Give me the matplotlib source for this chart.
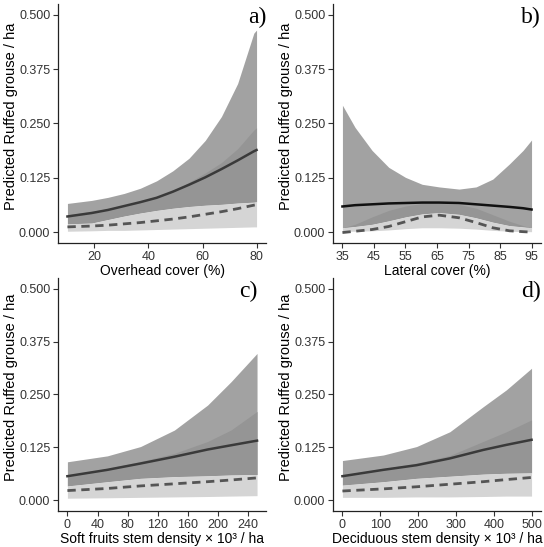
import numpy as np
import matplotlib
matplotlib.use("Agg")
import matplotlib.pyplot as plt

plt.rcParams["font.family"] = ["Liberation Sans", "DejaVu Sans"]

# ---- panel a: overhead cover ----
a_x = [10, 19, 25, 31, 37, 43, 49, 55, 61, 67, 73, 79, 80]
a_outer_hi = [0.066, 0.073, 0.080, 0.089, 0.101, 0.118, 0.141, 0.170, 0.211, 0.266, 0.342, 0.458, 0.465]
a_inner_hi = [0.040, 0.048, 0.054, 0.062, 0.071, 0.081, 0.095, 0.115, 0.136, 0.160, 0.192, 0.235, 0.240]
a_dark_lo = [0.019, 0.021, 0.029, 0.037, 0.044, 0.050, 0.055, 0.059, 0.062, 0.064, 0.067, 0.069, 0.070]
a_light_lo = [0.002, 0.003, 0.004, 0.004, 0.005, 0.006, 0.007, 0.008, 0.009, 0.010, 0.011, 0.012, 0.012]
a_solid = [0.036, 0.044, 0.051, 0.060, 0.069, 0.079, 0.093, 0.109, 0.126, 0.145, 0.165, 0.186, 0.189]
a_dashed = [0.012, 0.014, 0.016, 0.019, 0.022, 0.026, 0.030, 0.035, 0.041, 0.047, 0.054, 0.062, 0.063]

# ---- panel b: lateral cover ----
b_x = [35, 39, 44.4, 49.7, 55, 60.3, 65.7, 72, 77.4, 82.7, 88, 92.3, 95]
b_outer_hi = [0.292, 0.241, 0.188, 0.149, 0.126, 0.110, 0.104, 0.099, 0.104, 0.122, 0.157, 0.188, 0.212]
b_inner_hi = [0.010, 0.018, 0.035, 0.050, 0.060, 0.066, 0.066, 0.064, 0.055, 0.040, 0.025, 0.015, 0.010]
b_dark_lo = [0.010, 0.013, 0.018, 0.026, 0.035, 0.042, 0.045, 0.041, 0.033, 0.023, 0.015, 0.012, 0.010]
b_light_lo = [0.002, 0.002, 0.003, 0.005, 0.008, 0.010, 0.010, 0.009, 0.007, 0.004, 0.002, 0.001, 0.001]
b_solid = [0.059, 0.062, 0.064, 0.066, 0.067, 0.068, 0.068, 0.067, 0.064, 0.061, 0.058, 0.055, 0.052]
b_dashed = [-0.001, 0.002, 0.006, 0.013, 0.024, 0.035, 0.039, 0.033, 0.022, 0.010, 0.003, 0.001, 0.000]

# ---- panel c: soft fruits stem density ----
c_x = [0, 53, 97, 142, 186, 217, 251.6]
c_outer_hi = [0.091, 0.105, 0.127, 0.166, 0.225, 0.280, 0.347]
c_inner_hi = [0.060, 0.075, 0.092, 0.111, 0.139, 0.166, 0.210]
c_dark_lo = [0.034, 0.044, 0.052, 0.056, 0.058, 0.060, 0.061]
c_light_lo = [0.005, 0.006, 0.007, 0.008, 0.009, 0.010, 0.011]
c_solid = [0.057, 0.072, 0.087, 0.103, 0.120, 0.130, 0.141]
c_dashed = [0.023, 0.028, 0.034, 0.039, 0.044, 0.048, 0.053]

# ---- panel d: deciduous stem density ----
d_x = [0, 108, 196, 284, 372, 433.5, 500]
d_outer_hi = [0.094, 0.107, 0.127, 0.162, 0.221, 0.261, 0.312]
d_inner_hi = [0.060, 0.075, 0.088, 0.106, 0.139, 0.162, 0.190]
d_dark_lo = [0.036, 0.044, 0.052, 0.057, 0.062, 0.064, 0.065]
d_light_lo = [0.007, 0.007, 0.008, 0.008, 0.009, 0.010, 0.010]
d_solid = [0.057, 0.072, 0.083, 0.099, 0.119, 0.131, 0.143]
d_dashed = [0.022, 0.027, 0.032, 0.038, 0.044, 0.049, 0.054]

panels = [
    ("a)", a_x, a_outer_hi, a_inner_hi, a_dark_lo, a_light_lo, a_solid, a_dashed,
     "Overhead cover (%)", [20, 40, 60, 80], (6.5, 83.5), "#3a3a3a"),
    ("b)", b_x, b_outer_hi, b_inner_hi, b_dark_lo, b_light_lo, b_solid, b_dashed,
     "Lateral cover (%)", [35, 45, 55, 65, 75, 85, 95], (32, 98), "#111111"),
    ("c)", c_x, c_outer_hi, c_inner_hi, c_dark_lo, c_light_lo, c_solid, c_dashed,
     "Soft fruits stem density \u00d7 10\u00b3 / ha", [0, 40, 80, 120, 160, 200, 240], (-12.5, 263.5), "#3a3a3a"),
    ("d)", d_x, d_outer_hi, d_inner_hi, d_dark_lo, d_light_lo, d_solid, d_dashed,
     "Deciduous stem density \u00d7 10\u00b3 / ha", [0, 100, 200, 300, 400, 500], (-25, 525), "#3a3a3a"),
]

boxes = [
    [0.1066, 0.5558, 0.3824, 0.4369],
    [0.6121, 0.5558, 0.3824, 0.4369],
    [0.1066, 0.0660, 0.3824, 0.4256],
    [0.6121, 0.0660, 0.3824, 0.4256],
]
letter_x = [1.0, 1.0, 0.96, 1.0]

fig = plt.figure(figsize=(5.44, 5.47), dpi=100)

for i, (box, p) in enumerate(zip(boxes, panels)):
    (letter, x, ohi, ihi, dlo, llo, solid, dashed, xlabel, xticks, xlim, solid_col) = p
    ax = fig.add_axes(box)
    ax.fill_between(x, dlo, ohi, color="#a2a2a2", lw=0)
    ax.fill_between(x, dlo, ihi, color="#959595", lw=0)
    ax.fill_between(x, llo, dlo, color="#d5d5d5", lw=0)
    ax.plot(x, solid, color=solid_col, lw=1.8)
    ax.plot(x, dashed, color="#555555", lw=2.0, dashes=(3, 2))

    ax.set_xlim(*xlim)
    ax.set_ylim(-0.025, 0.525)
    ax.set_xticks(xticks)
    ax.set_yticks([0, 0.125, 0.25, 0.375, 0.5])
    ax.set_yticklabels(["0.000", "0.125", "0.250", "0.375", "0.500"])
    ax.tick_params(labelsize=9, length=3.5, width=0.8, color="#333333",
                   labelcolor="#333333", pad=2)
    for s in ["top", "right"]:
        ax.spines[s].set_visible(False)
    for s in ["left", "bottom"]:
        ax.spines[s].set_linewidth(0.9)
        ax.spines[s].set_color("#222222")
    ax.set_xlabel(xlabel, fontsize=10, labelpad=1)
    ax.set_ylabel("Predicted Ruffed grouse / ha", fontsize=10.5)
    ax.yaxis.set_label_coords(-0.19, 0.53)
    ax.text(letter_x[i], 0.99, letter, transform=ax.transAxes, ha="right", va="top",
            fontsize=17, family="Liberation Serif")

fig.savefig("out.png", dpi=100)
